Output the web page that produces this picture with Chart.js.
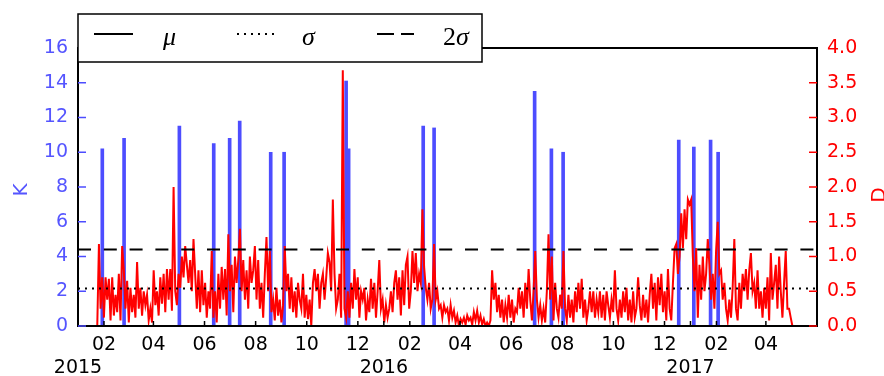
<!DOCTYPE html>
<html>
<head>
<meta charset="utf-8">
<script src="https://cdn.jsdelivr.net/npm/chart.js@4.4.1/dist/chart.umd.min.js"></script>
<style>
  body { margin: 0; background: #fff; }
  #wrap { width: 884px; height: 376px; }
</style>
</head>
<body>
<div id="wrap"><canvas id="chart"></canvas></div>
<script>
// x range of the plot
const axisStart = '2015-01-01';
const axisEnd = '2017-06-01';

// blue spikes (left axis, K)
const barDates = ['2015-01-30', '2015-02-25', '2015-05-02', '2015-06-12', '2015-07-01', '2015-07-13',
  '2015-08-19', '2015-09-04', '2015-11-17', '2015-11-20', '2016-02-17', '2016-03-01',
  '2016-06-29', '2016-07-19', '2016-08-02', '2016-12-18', '2017-01-05', '2017-01-25', '2017-02-03'];
const barK = [10.2, 10.8, 11.5, 10.5, 10.8, 11.8, 10.0, 10.0, 14.1, 10.2, 11.5, 11.4,
  13.5, 10.2, 10.0, 10.7, 10.3, 10.7, 10.0];

// red series (right axis, D), one value about every 2 days from redStart
const redStart = '2015-01-24';
const redStepDays = 1.98;
const redD = [
  0, 1.18, 0.25, 0.7, 0.12, 0.7, 0.38, 0.68, 0.08, 0.7,
  0.15, 0.45, 0.2, 0.75, 0.08, 1.15, 0.8, 0.25, 0.65, 0.05, 0.55, 0.2, 0.45, 0.12,
  0.92, 0.25, 0.55, 0.15, 0.5, 0.3, 0.45, 0.08, 0.25, 0.05, 0.8, 0.3, 0.5, 0.15, 0.7, 0.32,
  0.75, 0.2, 0.82, 0.38, 0.82, 0.22, 2.0, 0.5, 0.3, 0.75, 0.55, 1.0, 0.7, 1.15, 0.88, 0.62,
  0.95, 0.5, 1.25, 0.75, 0.25, 0.8, 0.2, 0.8, 0.3, 0.62, 0.12, 0.5, 0.25, 1.08, 0.12, 0.5,
  0.05, 0.75, 0.25, 0.85, 0.38, 0.82, 0.15, 1.32, 0.5, 0.88, 0.2, 1.0, 0.62, 0.95, 1.4, 0.5,
  0.95, 0.38, 0.8, 0.25, 1.0, 0.62, 0.8, 1.15, 0.38, 0.95, 0.25, 0.62, 0.12, 0.75, 1.28, 0.5,
  1.08, 0.2, 0.38, 0.08, 0.55, 0.15, 0.38, 0.05, 0.3, 1.15, 0.5, 0.75, 0.25, 0.7, 0.2, 0.5,
  0.12, 0.62, 0.38, 0.25, 0.75, 0.12, 0.45, 0.1, 0.38, 0.0, 0.62, 0.82, 0.5, 0.75, 0.25,
  // late 2015 - mid 2016
  0.62, 0.75, 0.38, 0.7, 1.05, 0.92, 0.5, 1.82, 0.75, 0.25, 0.38, 0.75, 0.12, 3.68, 0.25,
  0.12, 0.5, 0.12, 0.62, 0.25, 0.82, 0.38, 0.7, 0.12, 0.5, 0.38, 0.55, 0.08, 0.38, 0.2,
  0.68, 0.25, 0.62, 0.12, 0.5, 0.95, 0.25, 0.38, 0.05, 0.3, 0.12, 0.25, 0.5, 0.2, 0.62,
  0.8, 0.38, 0.7, 0.15, 0.8, 0.3, 0.88, 1.0, 0.25, 0.5, 1.08, 0.62, 1.05, 0.5, 0.75,
  0.62, 1.68, 0.85, 0.55, 0.38, 0.62, 0.25, 0.38, 1.18, 0.38, 0.5, 0.25, 0.3, 0.12, 0.3,
  0.2, 0.25, 0.08, 0.3, 0.12, 0.22, 0.05, 0.15, 0.0, 0.1, 0.05, 0.12, 0.02, 0.15, 0.08,
  0.12, 0.02, 0.2, 0.08, 0.22, 0.05, 0.15, 0.02, 0.1, 0.0, 0.05, 0.0, 0.08, 0.8, 0.38,
  0.62, 0.2, 0.45, 0.12, 0.38, 0.05, 0.3, 0.12, 0.45, 0.12, 0.38, 0.05, 0.25, 0.2, 0.55,
  0.25, 0.5, 0.12, 0.62, 0.25, 0.82, 0.38, 0.08, 0.5, 1.08, 0.38, 0.12, 0.3, 0.08, 0.25,
  0.05, 0.5, 1.32, 0.38, 1.0, 0.08, 0.62, 0.25,
  // mid 2016 - 2017
  0.12, 0.45, 0.25, 1.08, 0.25, 0.08, 0.45, 0.12, 0.38, 0.05, 0.5, 0.2, 0.62, 0.25, 0.68,
  0.12, 0.38, 0.08, 0.25, 0.5, 0.2, 0.5, 0.12, 0.38, 0.2, 0.5, 0.12, 0.45, 0.08, 0.5,
  0.3, 0.12, 0.38, 0.2, 0.8, 0.25, 0.08, 0.38, 0.12, 0.5, 0.2, 0.55, 0.08, 0.38, 0.05,
  0.5, 0.12, 0.25, 0.7, 0.3, 0.08, 0.45, 0.12, 0.38, 0.05, 0.45, 0.75, 0.25, 0.62, 0.08,
  0.7, 0.3, 0.75, 0.2, 0.5, 0.08, 0.82, 0.25, 0.08, 0.62, 1.12, 1.18, 0.75, 1.0, 1.62,
  1.12, 1.68, 1.25, 1.82, 1.75, 1.82, 1.0, 0.5, 1.12, 0.12, 0.88, 0.38, 1.0, 0.5, 0.75,
  1.25, 0.88, 0.38, 0.75, 0.25, 1.08, 1.5, 0.75, 0.8, 0.38, 0.62, 0.25, 0.08, 0.38, 0.12,
  0.55, 1.25, 0.25, 0.08, 0.62, 0.25, 0.75, 0.5, 0.82, 0.38, 0.8, 1.05, 0.5, 0.62, 0.25,
  0.8, 0.25, 0.5, 0.12, 0.55, 0.25, 0.7, 0.08, 1.05, 0.38, 0.62, 0.88, 0.25, 1.0, 0.5,
  0.12, 0.62, 1.08, 0.25, 0.25, 0.12, 0.0
];

// reference levels (right axis, D)
const muD = 0;
const sigmaD = 0.54;
const twoSigmaD = 1.1;

const blue = '#4d4dff';
const blueText = '#5555ff';
const red = '#ff0000';

const day0 = Date.parse(axisStart);
function dayOf(s) { return (Date.parse(s) - day0) / 864e5; }
const maxDay = dayOf(axisEnd);
const redStartDay = dayOf(redStart);

// month ticks: January (year label on second line) and even months
const monthTicks = [];
for (let y = 2015; y <= 2017; y++) {
  for (let m = 0; m < 12; m++) {
    const d = (Date.UTC(y, m, 1) - day0) / 864e5;
    if (d >= maxDay) continue;
    if (m === 0) monthTicks.push({ value: d, label: ['', String(y)] });
    else if (m % 2 === 1) monthTicks.push({ value: d, label: [String(m + 1).padStart(2, '0')] });
  }
}

function flatLine(v) { return [{ x: 0, y: v }, { x: maxDay, y: v }]; }

Chart.defaults.font.family = 'DejaVu Sans';
Chart.defaults.font.size = 19;

// inward ticks and the top spine
const frame = {
  id: 'frame',
  afterDatasetsDraw(chart) {
    const { ctx, chartArea: a, scales } = chart;
    ctx.save();
    ctx.lineWidth = 1.5;
    function seg(x1, y1, x2, y2) { ctx.beginPath(); ctx.moveTo(x1, y1); ctx.lineTo(x2, y2); ctx.stroke(); }
    ctx.strokeStyle = '#000';
    scales.x.ticks.forEach(t => { const p = scales.x.getPixelForValue(t.value); seg(p, a.bottom, p, a.bottom - 5); });
    ctx.strokeStyle = blue;
    scales.yK.ticks.forEach(t => { const p = scales.yK.getPixelForValue(t.value); seg(a.left, p, a.left + 8, p); });
    ctx.strokeStyle = red;
    scales.yD.ticks.forEach(t => { const p = scales.yD.getPixelForValue(t.value); seg(a.right, p, a.right - 8, p); });
    ctx.strokeStyle = '#000';
    ctx.lineWidth = 2;
    seg(a.left - 1, a.top, a.right + 1, a.top);
    ctx.restore();
  },
  afterDraw(chart) {
    const { ctx } = chart;
    ctx.save();
    // axis titles, rotated like matplotlib
    ctx.font = '20px "DejaVu Sans"';
    ctx.textAlign = 'center';
    ctx.textBaseline = 'alphabetic';
    ctx.fillStyle = blueText;
    ctx.translate(27, 190); ctx.rotate(-Math.PI / 2); ctx.fillText('K', 0, 0);
    ctx.setTransform(1, 0, 0, 1, 0, 0);
    ctx.fillStyle = red;
    ctx.translate(885, 195); ctx.rotate(-Math.PI / 2); ctx.fillText('D', 0, 0);
    ctx.setTransform(1, 0, 0, 1, 0, 0);

    // legend box
    ctx.fillStyle = '#fff';
    ctx.fillRect(78, 14, 404, 48);
    ctx.strokeStyle = '#000';
    ctx.lineWidth = 1.5;
    ctx.strokeRect(78, 14, 404, 48);
    ctx.lineWidth = 2;
    const ly = 34;
    ctx.beginPath(); ctx.moveTo(94, ly); ctx.lineTo(133, ly); ctx.stroke();
    ctx.setLineDash([2, 5]);
    ctx.beginPath(); ctx.moveTo(237, ly); ctx.lineTo(274, ly); ctx.stroke();
    ctx.setLineDash([17, 7]);
    ctx.beginPath(); ctx.moveTo(377, ly); ctx.lineTo(414, ly); ctx.stroke();
    ctx.setLineDash([]);
    ctx.fillStyle = '#000';
    ctx.textAlign = 'left';
    ctx.font = 'italic 26px "Liberation Serif"';
    ctx.fillText('\u03bc', 163, 45);
    ctx.fillText('\u03c3', 302, 45);
    ctx.fillText('\u03c3', 456, 45);
    ctx.font = '26px "Liberation Serif"';
    ctx.fillText('2', 443, 45);
    ctx.restore();
  }
};

new Chart(document.getElementById('chart'), {
  type: 'line',
  data: {
    datasets: [
      {
        label: 'mu', data: flatLine(muD), yAxisID: 'yD',
        borderColor: '#000', borderWidth: 2, pointRadius: 0, order: 0
      },
      {
        label: 'sigma', data: flatLine(sigmaD), yAxisID: 'yD',
        borderColor: '#000', borderWidth: 2, borderDash: [2, 5], pointRadius: 0, order: 0
      },
      {
        label: '2sigma', data: flatLine(twoSigmaD), yAxisID: 'yD',
        borderColor: '#000', borderWidth: 2, borderDash: [13, 12.8], pointRadius: 0, order: 0
      },
      {
        label: 'D', data: redD.map((v, i) => ({ x: redStartDay + i * redStepDays, y: v })), yAxisID: 'yD',
        borderColor: red, borderWidth: 2, pointRadius: 0, tension: 0, order: 1
      },
      {
        type: 'bar', label: 'K', data: barDates.map((d, i) => ({ x: dayOf(d), y: barK[i] })), yAxisID: 'yK',
        backgroundColor: blue, borderWidth: 0, barThickness: 3, order: 2
      }
    ]
  },
  options: {
    responsive: true,
    maintainAspectRatio: false,
    animation: false,
    events: [],
    layout: { padding: { top: 48, left: 0, right: 0, bottom: 0 } },
    plugins: { legend: { display: false }, tooltip: { enabled: false } },
    scales: {
      x: {
        type: 'linear', min: 0, max: maxDay, offset: false,
        grid: { display: false, drawTicks: false },
        border: { display: true, color: '#000', width: 2 },
        afterBuildTicks: s => { s.ticks = monthTicks.map(t => ({ value: t.value })); },
        ticks: {
          color: '#000', padding: 8, autoSkip: false, maxRotation: 0,
          callback: v => { const t = monthTicks.find(m => m.value === v); return t ? t.label : null; }
        },
        afterFit: s => { s.height = 50; }
      },
      yK: {
        type: 'linear', position: 'left', min: 0, max: 16,
        grid: { display: false, drawTicks: false },
        border: { display: true, color: '#000', width: 2 },
        ticks: { color: blueText, stepSize: 2, padding: 10 },
        afterFit: s => { s.width = 78; }
      },
      yD: {
        type: 'linear', position: 'right', min: 0, max: 4,
        grid: { display: false, drawTicks: false },
        border: { display: true, color: '#000', width: 2 },
        ticks: { color: red, stepSize: 0.5, padding: 10, callback: v => v.toFixed(1) },
        afterFit: s => { s.width = 67; }
      }
    }
  },
  plugins: [frame]
});
</script>
</body>
</html>
